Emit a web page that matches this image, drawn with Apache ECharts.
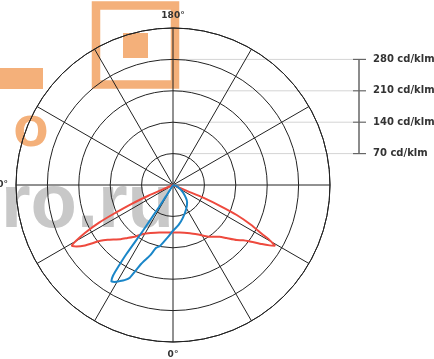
<!DOCTYPE html>
<html>
<head>
<meta charset="utf-8">
<script src="https://cdn.jsdelivr.net/npm/echarts@6/dist/echarts.min.js"></script>
<style>
html,body{margin:0;padding:0;background:#fff;}
#c{width:434px;height:359px;}
</style>
</head>
<body>
<div id="c"></div>
<script>
// Angles in degrees from nadir (0°); positive = left half, negative = right half. Values in cd/klm.
var redAngles = [67, 66.8, 66.5, 65.5, 64, 63, 61.5, 60, 59, 57.5, 55.5, 54, 52.5, 50, 47, 44, 41, 36, 31.5, 25, 16, 8, 0, -8, -19.4, -27, -35.6, -42, -45.2, -49.2, -51.8, -54, -56.4, -58, -59.2, -60.5, -61, -63, -64.8, -66, -67.3, -67.2, -67];
var redValues = [0, 30, 60, 100, 150, 185, 222, 250, 263, 255, 238, 220, 204, 190, 178, 168, 157, 142, 128, 118, 110, 107, 106, 107, 114, 124, 142, 155, 168, 188, 199, 215, 238, 254, 265, 245, 230, 195, 157, 118, 73, 35, 0];
var blueAngles = [34, 32, 32.5, 33.3, 34, 33.8, 33.5, 32.6, 31, 29, 27, 25, 22, 18, 15, 12, 6, 0, -8, -17, -28, -39, -53, -70, -70];
var blueValues = [0, 30, 58, 122, 185, 220, 242, 255, 252, 245, 238, 228, 190, 165, 145, 139, 118, 102, 90, 76, 62, 50, 28, 10, 0];
var ringTicks = [70, 140, 210, 280];
var ringLabels = ['70 cd/klm', '140 cd/klm', '210 cd/klm', '280 cd/klm'];
var angleLabels = [0, 90, 180];

function toPolar(angles, values) {
  return angles.map(function (a, i) { return [values[i], (a + 360) % 360]; });
}

var chart = echarts.init(document.getElementById('c'), null, {renderer: 'canvas'});
var gridColor = '#222';
chart.setOption({
  animation: false,
  polar: { center: [173, 185], radius: 157 },
  angleAxis: {
    type: 'value', min: 0, max: 360, interval: 30,
    startAngle: -90, clockwise: true,
    axisLine: { show: true, lineStyle: { color: gridColor, width: 1 } },
    axisTick: { show: false },
    splitLine: { show: true, lineStyle: { color: gridColor, width: 1 } },
    axisLabel: {
      show: true, margin: 8, color: '#333', fontSize: 9, fontWeight: 'bold',
      fontFamily: 'DejaVu Sans',
      formatter: function (v) { return angleLabels.indexOf(v) >= 0 ? v + '°' : ''; }
    }
  },
  radiusAxis: {
    type: 'value', min: 0, max: 350, interval: 70,
    axisLine: { show: false }, axisTick: { show: false }, axisLabel: { show: false },
    splitLine: { show: true, lineStyle: { color: gridColor, width: 1 } }
  },
  series: [
    { type: 'line', coordinateSystem: 'polar', data: toPolar(redAngles, redValues),
      showSymbol: false, symbol: 'none', smooth: 0.2, z: 5,
      lineStyle: { color: '#ee4a3e', width: 2 } },
    { type: 'line', coordinateSystem: 'polar', data: toPolar(blueAngles, blueValues),
      showSymbol: false, symbol: 'none', smooth: 0.2, z: 6,
      lineStyle: { color: '#1a86c8', width: 2 } }
  ]
});

// Watermark and radial scale
var g = [];
var orange = '#f4b07a';
g.push({ type: 'rect', z: -10, shape: { x: 0, y: 68, width: 43, height: 21 }, style: { fill: orange } });
g.push({ type: 'rect', z: -10, shape: { x: 96, y: 5.5, width: 79, height: 79 }, style: { fill: 'none', stroke: orange, lineWidth: 8.5 } });
g.push({ type: 'rect', z: -10, shape: { x: 123, y: 33, width: 25, height: 25 }, style: { fill: orange } });
g.push({ type: 'text', z: -10, style: { text: 'o', x: 31, y: 130, fill: orange, font: 'bold 58px "Liberation Sans"', textAlign: 'center', textVerticalAlign: 'middle' } });
g.push({ type: 'text', z: -10, style: { text: 'ro.ru', x: 174, y: 206, fill: '#c8c8c8', font: 'bold 76px "Liberation Sans"', textAlign: 'right', textVerticalAlign: 'middle' } });

var center = chart.convertToPixel({ seriesIndex: 0 }, [0, 180]);
var pts = ringTicks.map(function (r) { return chart.convertToPixel({ seriesIndex: 0 }, [r, 180]); });
var scaleX = 359;
pts.forEach(function (p, i) {
  g.push({ type: 'line', z: -5, shape: { x1: center[0], y1: p[1], x2: scaleX - 6, y2: p[1] }, style: { stroke: '#d4d4d4', lineWidth: 1 } });
  g.push({ type: 'line', z: 1, shape: { x1: scaleX - 6, y1: p[1], x2: scaleX + 7, y2: p[1] }, style: { stroke: '#666', lineWidth: 1.2 } });
  g.push({ type: 'text', z: 1, style: { text: ringLabels[i], x: 373, y: p[1], fill: '#333', font: 'bold 10px "DejaVu Sans"', textAlign: 'left', textVerticalAlign: 'middle' } });
});
g.push({ type: 'line', z: 1, shape: { x1: scaleX, y1: pts[pts.length - 1][1], x2: scaleX, y2: pts[0][1] }, style: { stroke: '#666', lineWidth: 1.5 } });
chart.setOption({ graphic: g });
</script>
</body>
</html>
